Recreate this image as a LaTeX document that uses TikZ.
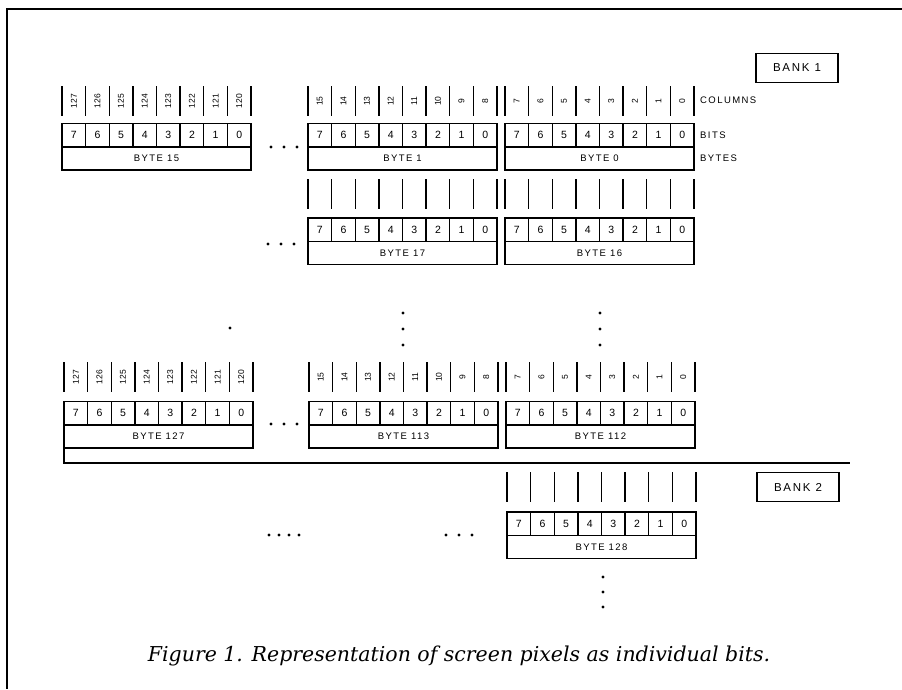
\documentclass[tikz,border=0pt]{standalone}
\usepackage{fontspec}
\setmainfont{DejaVu Serif}
\newfontfamily\labfont[LetterSpace=15]{Liberation Sans}
\newfontfamily\digfont{Liberation Sans}
\def\cw{23.625}
\tikzset{
 cellbase/.style={draw, line width=1.3pt, inner sep=0pt, outer sep=0pt},
 bitcell/.style={cellbase, minimum width=23.625pt, minimum height=23.5pt, font=\digfont\fontsize{10.5}{11}\selectfont},
 bytecell/.style={cellbase, minimum width=189pt, minimum height=23pt, font=\labfont\fontsize{9.5}{11}\selectfont},
 colline/.style={line width=1.3pt},
 collab/.style={rotate=90, inner sep=0pt, font=\digfont\fontsize{8.5}{9}\selectfont},
 sidelab/.style={anchor=west, inner sep=0pt, font=\labfont\fontsize{9.5}{11}\selectfont},
 bank/.style={cellbase, minimum width=82pt, minimum height=29pt, font=\labfont\fontsize{11.5}{13}\selectfont},
 dotn/.style={circle, fill, inner sep=0pt, minimum size=3.4pt},
 framel/.style={line width=1.6pt},
}
% #1 prefix, #2 x0, #3 column-line top, #4 bits top, #5 byte label, #6 first column number (-1: none)
\newcommand\ByteGroup[6]{%
 \foreach \i in {0,...,7}{%
   \pgfmathtruncatemacro\bitv{7-\i}
   \node[bitcell] (#1b\bitv) at ({#2+(\i+0.5)*\cw},{#4+11.75}) {\bitv};
 }
 \node[bytecell, anchor=north west] (#1B) at (#1b7.south west) {BYTE #5};
 \foreach \i in {0,...,8}{\draw[colline] ({#2+\i*\cw},{#3}) -- ({#2+\i*\cw},{#3+30});}
 \ifnum#6<0\relax\else
 \foreach \i in {0,...,7}{%
   \pgfmathtruncatemacro\cv{#6-\i}
   \node[collab] (#1c\i) at ({#2+(\i+0.5)*\cw},{#3+15}) {\cv};
 }\fi
}
\begin{document}
\begin{tikzpicture}[x=1pt,y=-1pt]
\useasboundingbox (0,0) rectangle (902,689);
\draw[framel] (902,9) -- (7,9) -- (7,689);

% row 1
\ByteGroup{ra}{62}{86}{123.5}{15}{127}
\ByteGroup{rb}{308}{86}{123.5}{1}{15}
\ByteGroup{rc}{505}{86}{123.5}{0}{7}
\node[sidelab] (lcol) at (700,100) {COLUMNS};
\node[sidelab] (lbit) at (700,135) {BITS};
\node[sidelab] (lbyt) at (700,158) {BYTES};
\node[bank] (bank1) at (797,68) {BANK 1};
\foreach \k/\x in {1/271,2/284,3/297}{\node[dotn] (hd1\k) at (\x,147) {};}

% row 2
\ByteGroup{sb}{308}{179}{218}{17}{-1}
\ByteGroup{sc}{505}{179}{218}{16}{-1}
\foreach \k/\x in {1/268,2/281,3/294}{\node[dotn] (hd2\k) at (\x,244) {};}

% vertical dots
\foreach \k/\y in {1/313,2/329,3/345}{
  \node[dotn] (vb\k) at (403,\y) {};
  \node[dotn] (vc\k) at (600,\y) {};
}
\node[dotn] (sd) at (230,328) {};

% row 3
\ByteGroup{ta}{64}{362}{401.5}{127}{127}
\ByteGroup{tb}{309}{362}{401.5}{113}{15}
\ByteGroup{tc}{506}{362}{401.5}{112}{7}
\foreach \k/\x in {1/271,2/284,3/297}{\node[dotn] (hd3\k) at (\x,424) {};}
\coordinate (lend) at (850,463);
\draw[colline] (taB.south west) |- (lend);

% row 4
\ByteGroup{uc}{507}{472}{512}{128}{-1}
\node[bank] (bank2) at (798,487) {BANK 2};
\foreach \k/\x in {1/269,2/279,3/289,4/299}{\node[dotn] (hd4\k) at (\x,535) {};}
\foreach \k/\x in {1/446,2/459,3/472}{\node[dotn] (hd5\k) at (\x,535) {};}
\foreach \k/\y in {1/577,2/592,3/607}{\node[dotn] (vu\k) at (603,\y) {};}

% caption
\node (cap) at (459,656) {\itshape\fontsize{20.5}{23}\selectfont Figure 1. Representation of screen pixels as individual bits.};
\end{tikzpicture}
\end{document}
